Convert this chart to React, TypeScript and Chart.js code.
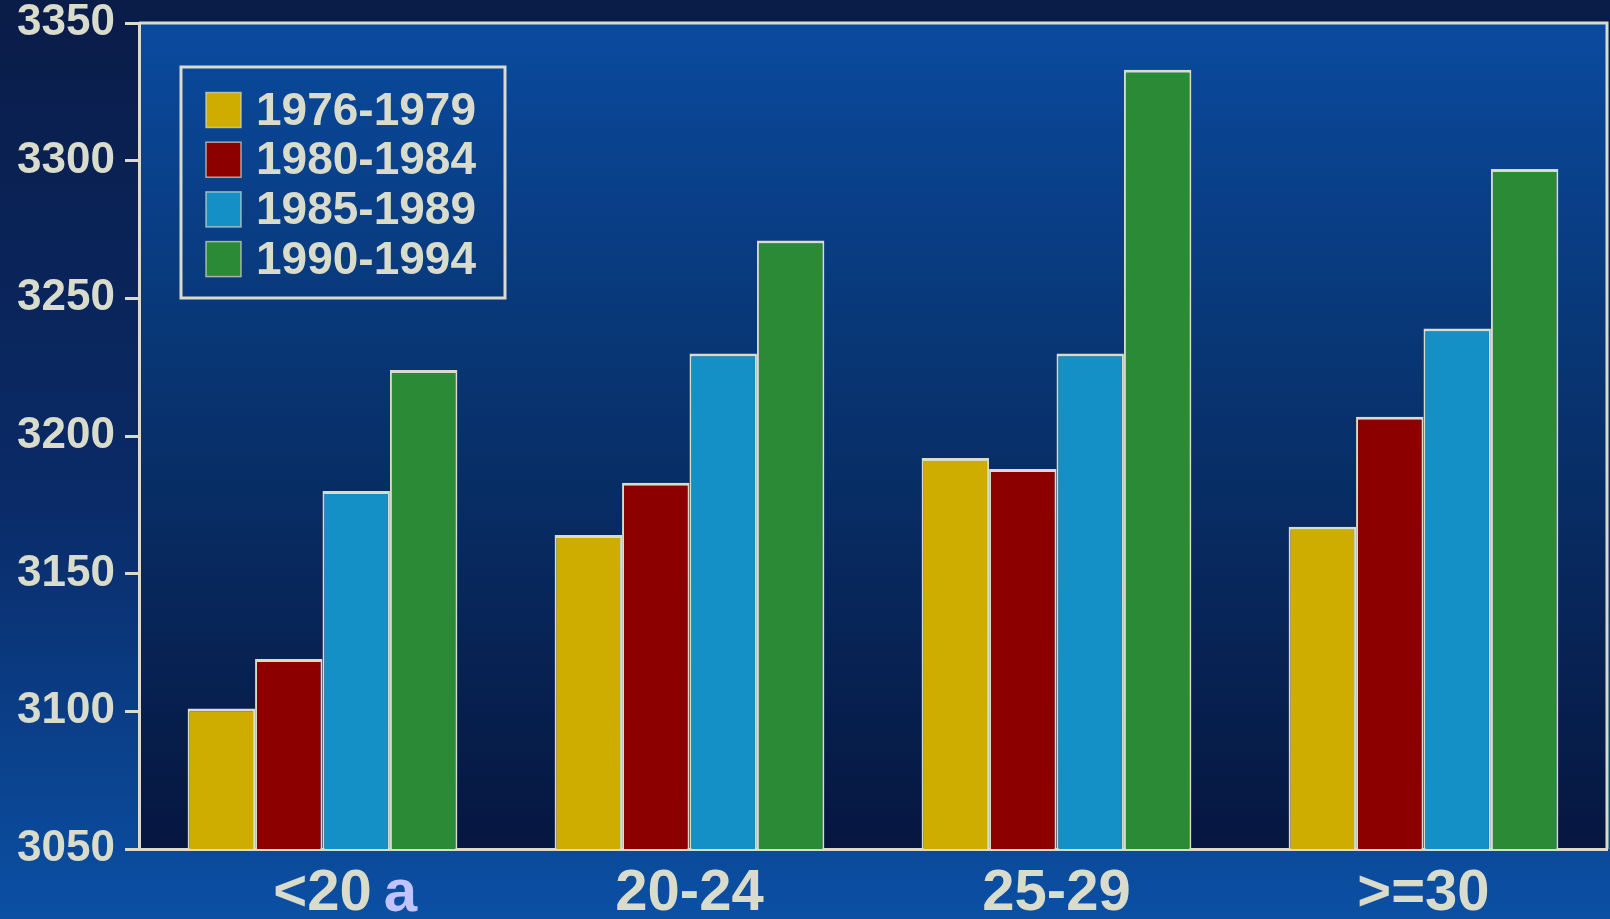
import React, { useEffect, useRef } from "react";
import { Chart, registerables } from "chart.js";

Chart.register(...registerables);

const categories = ["<20", "20-24", "25-29", ">=30"];
const seriesLabels = ["1976-1979", "1980-1984", "1985-1989", "1990-1994"];
const s1976 = [3101, 3164, 3192, 3167];
const s1980 = [3119, 3183, 3188, 3207];
const s1985 = [3180, 3230, 3230, 3239];
const s1990 = [3224, 3271, 3333, 3297];
const yTickValues = [3050, 3100, 3150, 3200, 3250, 3300, 3350];
const footnote = "a";

const seriesColors = ["#cfac00", "#8c0000", "#1590c6", "#2a8a36"];
const CREAM = "#d9dccb";
const FONT = '"Liberation Sans", Arial, sans-serif';
const X_FONT = 58;
const X_PAD = 10;

const framePlugin = {
  id: "frame",
  beforeDraw(chart: any) {
    const { ctx, width, height, chartArea: a } = chart;
    ctx.save();
    const g = ctx.createLinearGradient(0, 0, 0, height);
    g.addColorStop(0, "#0a1c48");
    g.addColorStop(0.55, "#0a2b68");
    g.addColorStop(1, "#0b50a4");
    ctx.fillStyle = g;
    ctx.fillRect(0, 0, width, height);
    const g2 = ctx.createLinearGradient(0, a.top, 0, a.bottom);
    g2.addColorStop(0, "#0a4a9e");
    g2.addColorStop(0.45, "#08336f");
    g2.addColorStop(1, "#06163f");
    ctx.fillStyle = g2;
    ctx.fillRect(a.left, a.top, a.right - a.left, a.bottom - a.top);
    ctx.restore();
  },
  afterDraw(chart: any) {
    const { ctx, chartArea: a } = chart;
    ctx.save();
    ctx.strokeStyle = CREAM;
    ctx.lineWidth = 3;
    ctx.beginPath();
    ctx.moveTo(a.left, a.top);
    ctx.lineTo(a.right, a.top);
    ctx.lineTo(a.right, a.bottom);
    ctx.stroke();

    // legend box
    const bx = 181, by = 67, bw = 324, bh = 231;
    ctx.lineWidth = 3;
    ctx.strokeRect(bx, by, bw, bh);
    const rowY0 = 110, rowStep = 49.7, sw = 35;
    ctx.font = `bold 46px ${FONT}`;
    ctx.textBaseline = "middle";
    ctx.textAlign = "left";
    chart.data.datasets.forEach((ds: any, i: number) => {
      const cy = rowY0 + i * rowStep;
      ctx.fillStyle = ds.backgroundColor;
      ctx.fillRect(206, cy - sw / 2, sw, sw);
      ctx.lineWidth = 1.5;
      ctx.strokeStyle = "rgba(217,220,203,0.7)";
      ctx.strokeRect(206, cy - sw / 2, sw, sw);
      ctx.fillStyle = CREAM;
      ctx.fillText(ds.label, 256, cy + 2);
    });

    // footnote marker after first category label
    const xs = chart.scales.x;
    ctx.font = `bold ${X_FONT}px ${FONT}`;
    ctx.textBaseline = "middle";
    const w = ctx.measureText(categories[0]).width;
    const baseOff = ctx.measureText("20").actualBoundingBoxDescent;
    const cx = xs.getPixelForTick(0);
    const midY = xs.top + X_PAD + (X_FONT * 1.2) / 2;
    ctx.font = `bold 60px ${FONT}`;
    ctx.fillStyle = "#c2c2ff";
    ctx.textBaseline = "alphabetic";
    ctx.fillText(footnote, cx + w / 2 + 12, midY + baseOff);
    ctx.restore();
  },
};

export default function App() {
  const ref = useRef<HTMLCanvasElement>(null);

  useEffect(() => {
    document.body.style.margin = "0";
    document.body.style.overflow = "hidden";
    const series = [s1976, s1980, s1985, s1990];
    const chart = new Chart(ref.current as HTMLCanvasElement, {
      type: "bar",
      data: {
        labels: categories,
        datasets: series.map((d, i) => ({
          label: seriesLabels[i],
          data: d,
          backgroundColor: seriesColors[i],
          borderColor: CREAM,
          borderWidth: { top: 3, left: 2, right: 2, bottom: 0 },
          borderSkipped: "start",
          categoryPercentage: 0.735,
          barPercentage: 1,
        })),
      },
      options: {
        animation: false,
        responsive: true,
        maintainAspectRatio: false,
        layout: { padding: { top: 23, right: 3, left: 0, bottom: 0 } },
        plugins: {
          legend: { display: false },
          tooltip: { enabled: false },
          title: { display: false },
        },
        scales: {
          x: {
            grid: { display: false, drawTicks: false },
            border: { display: true, color: CREAM, width: 3 },
            ticks: {
              color: CREAM,
              font: { family: FONT, size: X_FONT, weight: "bold" },
              padding: X_PAD,
              maxRotation: 0,
              autoSkip: false,
            },
            afterFit(scale: any) {
              scale.height = 70;
              scale.paddingLeft = 0;
              scale.paddingRight = 0;
            },
          },
          y: {
            min: 3050,
            max: 3350,
            afterBuildTicks(scale: any) {
              scale.ticks = yTickValues.map((v) => ({ value: v }));
            },
            grid: {
              drawOnChartArea: false,
              drawTicks: true,
              tickLength: 14,
              color: CREAM,
              lineWidth: 3,
            },
            border: { display: true, color: CREAM, width: 3 },
            ticks: {
              color: CREAM,
              font: { family: FONT, size: 44, weight: "bold", lineHeight: 1 },
              padding: 10,
              callback: (v: any) => String(v),
            },
            afterFit(scale: any) {
              scale.width = 139;
              scale.paddingTop = 0;
              scale.paddingBottom = 0;
            },
          },
        },
      },
      plugins: [framePlugin],
    });
    return () => chart.destroy();
  }, []);

  return (
    <div style={{ width: 1610, height: 919, position: "relative" }}>
      <canvas ref={ref} />
    </div>
  );
}
